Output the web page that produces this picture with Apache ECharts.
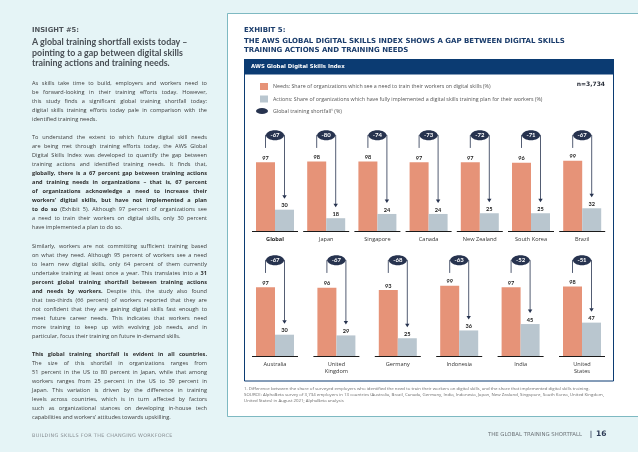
<!DOCTYPE html>
<html><head><meta charset="utf-8">
<script src="https://cdn.jsdelivr.net/npm/echarts@6/dist/echarts.min.js"></script>
<style>
html,body{margin:0;padding:0;width:638px;height:452px;overflow:hidden;background:#e5f4f6;}
#chart{position:absolute;left:0;top:0;width:638px;height:452px;}
#left{position:absolute;left:32px;top:0;width:175px;color:#3b3b3b;z-index:2;}
.ins{position:absolute;left:0;top:25.5px;font:bold 6.8px "DejaVu Sans";color:#4f555b;white-space:nowrap;}
.hd{position:absolute;left:0;top:37.3px;font:bold 8.9px Lato;line-height:10.3px;color:#484e54;white-space:nowrap;}
.body{position:absolute;left:0;top:78.8px;width:175px;font-family:"Open Sans";font-size:5.6px;line-height:9px;}
.body .p{margin:0 0 9.4px 0;}
.l{text-align:justify;text-align-last:justify;white-space:nowrap;height:9px;}
.e{text-align:left;white-space:nowrap;height:9px;}
b{font-weight:700;color:#2f2f2f;}
.foot{position:absolute;left:0;top:432px;font-family:"DejaVu Sans";font-size:4.9px;letter-spacing:0.35px;color:#858b90;white-space:nowrap;}
</style></head>
<body>
<div id="chart"></div>
<div id="left">
  <div class="ins">INSIGHT #5:</div>
  <div class="hd">A global training shortfall exists today –<br>pointing to a gap between digital skills<br>training actions and training needs.</div>
  <div class="body">
    <div class="p">
      <div class="l">As skills take time to build, employers and workers need to</div>
      <div class="l">be forward-looking in their training efforts today. However,</div>
      <div class="l">this study finds a significant global training shortfall today:</div>
      <div class="l">digital skills training efforts today pale in comparison with the</div>
      <div class="e">identified training needs.</div>
    </div>
    <div class="p">
      <div class="l">To understand the extent to which future digital skill needs</div>
      <div class="l">are being met through training efforts today, the AWS Global</div>
      <div class="l">Digital Skills Index was developed to quantify the gap between</div>
      <div class="l">training actions and identified training needs. It finds that,</div>
      <div class="l"><b>globally, there is a 67 percent gap between training actions</b></div>
      <div class="l"><b>and training needs in organizations – that is, 67 percent</b></div>
      <div class="l"><b>of organizations acknowledge a need to increase their</b></div>
      <div class="l"><b>workers’ digital skills, but have not implemented a plan</b></div>
      <div class="l"><b>to do so</b> (Exhibit 5). Although 97 percent of organizations see</div>
      <div class="l">a need to train their workers on digital skills, only 30 percent</div>
      <div class="e">have implemented a plan to do so.</div>
    </div>
    <div class="p">
      <div class="l">Similarly, workers are not committing sufficient training based</div>
      <div class="l">on what they need. Although 95 percent of workers see a need</div>
      <div class="l">to learn new digital skills, only 64 percent of them currently</div>
      <div class="l">undertake training at least once a year. This translates into a <b>31</b></div>
      <div class="l"><b>percent global training shortfall between training actions</b></div>
      <div class="l"><b>and needs by workers.</b> Despite this, the study also found</div>
      <div class="l">that two-thirds (66 percent) of workers reported that they are</div>
      <div class="l">not confident that they are gaining digital skills fast enough to</div>
      <div class="l">meet future career needs. This indicates that workers need</div>
      <div class="l">more training to keep up with evolving job needs, and in</div>
      <div class="e">particular, focus their training on future in-demand skills.</div>
    </div>
    <div class="p">
      <div class="l"><b>This global training shortfall is evident in all countries.</b></div>
      <div class="l">The size of this shortfall in organizations ranges from</div>
      <div class="l">51 percent in the US to 80 percent in Japan, while that among</div>
      <div class="l">workers ranges from 25 percent in the US to 39 percent in</div>
      <div class="l">Japan. This variation is driven by the difference in training</div>
      <div class="l">levels across countries, which is in turn affected by factors</div>
      <div class="l">such as organizational stances on developing in-house tech</div>
      <div class="e">capabilities and workers’ attitudes towards upskilling.</div>
    </div>
  </div>
  <div class="foot">BUILDING SKILLS FOR THE CHANGING WORKFORCE</div>
</div>
<script>
// ---- data ----
const row1Countries = ['Global', 'Japan', 'Singapore', 'Canada', 'New Zealand', 'South Korea', 'Brazil'];
const row1Needs = [97, 98, 98, 97, 97, 96, 99];
const row1Actions = [30, 18, 24, 24, 25, 25, 32];
const row1Gap = [-67, -80, -74, -73, -72, -71, -67];

const row2Countries = ['Australia', 'United\nKingdom', 'Germany', 'Indonesia', 'India', 'United\nStates'];
const row2Needs = [97, 96, 93, 99, 97, 98];
const row2Actions = [30, 29, 25, 36, 45, 47];
const row2Gap = [-67, -67, -68, -63, -52, -51];

const needsName = 'Needs: Share of organizations which see a need to train their workers on digital skills (%)';
const actionsName = 'Actions: Share of organizations which have fully implemented a digital skills training plan for their workers (%)';
const gapName = 'Global training shortfall\u00B9 (%)';

const SALMON = '#e69378';
const GREY = '#b9c6cf';
const NAVY = '#0b3b72';
const DARK = '#27334f';

const chart = echarts.init(document.getElementById('chart'), null, {renderer: 'canvas'});

function bracket(params, api) {
  const i = api.value(0);
  const base = api.coord([i, 0]);
  const cx = base[0], y0 = base[1];
  const yA = api.coord([i, api.value(2)])[1];
  const top = api.coord([i, 135])[1];
  const leftEnd = api.coord([i, 117])[1];
  const xl = cx - 9.5, xr = cx + 9.5;
  const tip = yA - 11;
  return {
    type: 'group',
    children: [
      {type: 'line', shape: {x1: cx - 23, y1: y0 + 0.5, x2: cx + 23, y2: y0 + 0.5}, style: {stroke: '#1a1a1a', lineWidth: 1}},
      {type: 'polyline', shape: {points: [[xl, leftEnd], [xl, top], [xr, top], [xr, tip - 3]]}, style: {stroke: DARK, lineWidth: 0.8, fill: null}},
      {type: 'polygon', shape: {points: [[xr - 2.2, tip - 3.5], [xr + 2.2, tip - 3.5], [xr, tip]]}, style: {fill: DARK}},
      {type: 'ellipse', shape: {cx: cx, cy: top, rx: 9, ry: 5}, style: {fill: DARK}},
      {type: 'text', style: {text: String(api.value(3)), x: cx, y: top + 0.3, align: 'center', verticalAlign: 'middle', fill: '#ffffff', font: 'bold 6px Lato'}}
    ]
  };
}

function rowSeries(idx, needs, actions, gap) {
  const lbl = {show: true, position: 'top', distance: 1.2, fontSize: 5.6, fontWeight: 'bold', fontFamily: 'Lato', color: '#222'};
  return [
    {name: needsName, type: 'bar', xAxisIndex: idx, yAxisIndex: idx, data: needs, barWidth: 19, barGap: '0%', itemStyle: {color: SALMON}, label: lbl, silent: true},
    {name: actionsName, type: 'bar', xAxisIndex: idx, yAxisIndex: idx, data: actions, barWidth: 19, barGap: '0%', itemStyle: {color: GREY}, label: lbl, silent: true},
    {name: gapName, type: 'custom', xAxisIndex: idx, yAxisIndex: idx, renderItem: bracket, itemStyle: {color: DARK},
     encode: {x: 0, y: [1, 2]}, data: needs.map((v, i) => [i, v, actions[i], gap[i]]), z: 5, silent: true}
  ];
}

function xAxis(idx, cats) {
  return {
    type: 'category', gridIndex: idx, data: cats,
    axisLine: {show: false}, axisTick: {show: false},
    axisLabel: {
      margin: 4.5, fontSize: 5.6, fontFamily: 'Open Sans', color: '#333', lineHeight: 7.6, interval: 0,
      formatter: v => v === 'Global' ? '{b|' + v + '}' : v,
      rich: {b: {fontWeight: 'bold', fontSize: 5.6, fontFamily: 'Open Sans', color: '#222'}}
    }
  };
}
function yAxis(idx) {
  return {type: 'value', gridIndex: idx, min: 0, max: 100, show: false, splitLine: {show: false}};
}

const txt = (t, x, y, font, fill, extra) => ({type: 'text', x: x, y: y, style: Object.assign({text: t, font: font, fill: fill}, extra || {})});

chart.setOption({
  animation: false,
  textStyle: {fontFamily: 'Open Sans'},
  grid: [
    {left: 249.4, width: 358.4, top: 160, height: 71},
    {left: 244.3, width: 368.4, top: 285, height: 71}
  ],
  xAxis: [xAxis(0, row1Countries), xAxis(1, row2Countries)],
  yAxis: [yAxis(0), yAxis(1)],
  legend: [
    {data: [{name: needsName, icon: 'rect'}, {name: actionsName, icon: 'rect'}], orient: 'vertical', left: 260, top: 83,
     itemWidth: 8, itemHeight: 7, itemGap: 5.5, selectedMode: false, padding: 0,
     textStyle: {fontSize: 5.3, color: '#555', fontFamily: 'Open Sans'}},
    {data: [{name: gapName, icon: 'path://M0,5a10,5 0 1,0 20,0a10,5 0 1,0 -20,0Z'}], orient: 'vertical', left: 256, top: 108,
     itemWidth: 12, itemHeight: 6, selectedMode: false, padding: 0,
     textStyle: {fontSize: 5.3, color: '#555', fontFamily: 'Open Sans'}}
  ],
  graphic: [
    {type: 'rect', shape: {x: 227.5, y: 13.5, width: 420, height: 403}, style: {fill: '#ffffff', stroke: '#5fa8b4', lineWidth: 0.8}, z: -10},
    txt('EXHIBIT 5:', 244, 27, 'bold 7px "DejaVu Sans"', '#1b3d6c'),
    txt('THE AWS GLOBAL DIGITAL SKILLS INDEX SHOWS A GAP BETWEEN DIGITAL SKILLS', 244, 37.5, 'bold 7px "DejaVu Sans"', '#1b3d6c'),
    txt('TRAINING ACTIONS AND TRAINING NEEDS', 244, 46.5, 'bold 7px "DejaVu Sans"', '#1b3d6c'),
    {type: 'rect', shape: {x: 244, y: 59, width: 370, height: 15}, style: {fill: NAVY}},
    txt('AWS Global Digital Skills Index', 251, 63.8, 'bold 5.4px "DejaVu Sans"', '#ffffff'),
    {type: 'rect', shape: {x: 244.5, y: 74, width: 369, height: 307}, style: {fill: null, stroke: NAVY, lineWidth: 1}},
    txt('n=3,734', 605, 81.5, 'bold 6px "DejaVu Sans"', '#2a2f3a', {align: 'right'}),
    txt('1. Difference between the share of surveyed employers who identified the need to train their workers on digital skills, and the share that implemented digital skills training.', 244, 386.3, '4.35px "Open Sans"', '#6b6b6b'),
    txt('SOURCE: AlphaBeta survey of 3,734 employers in 13 countries (Australia, Brazil, Canada, Germany, India, Indonesia, Japan, New Zealand, Singapore, South Korea, United Kingdom,', 244, 392.7, '4.35px "Open Sans"', '#6b6b6b'),
    txt('United States) in August 2021; AlphaBeta analysis', 244, 399.1, '4.35px "Open Sans"', '#6b6b6b'),
    txt('THE GLOBAL TRAINING SHORTFALL', 582, 432.3, '5.4px "DejaVu Sans"', '#6f757a', {align: 'right'}),
    txt('|', 590, 430.5, 'bold 7.5px Lato', '#2d3a55'),
    txt('16', 596, 430.5, 'bold 7.5px "DejaVu Sans"', '#2d3a55')
  ],
  series: [].concat(rowSeries(0, row1Needs, row1Actions, row1Gap), rowSeries(1, row2Needs, row2Actions, row2Gap))
});
</script>
</body></html>
